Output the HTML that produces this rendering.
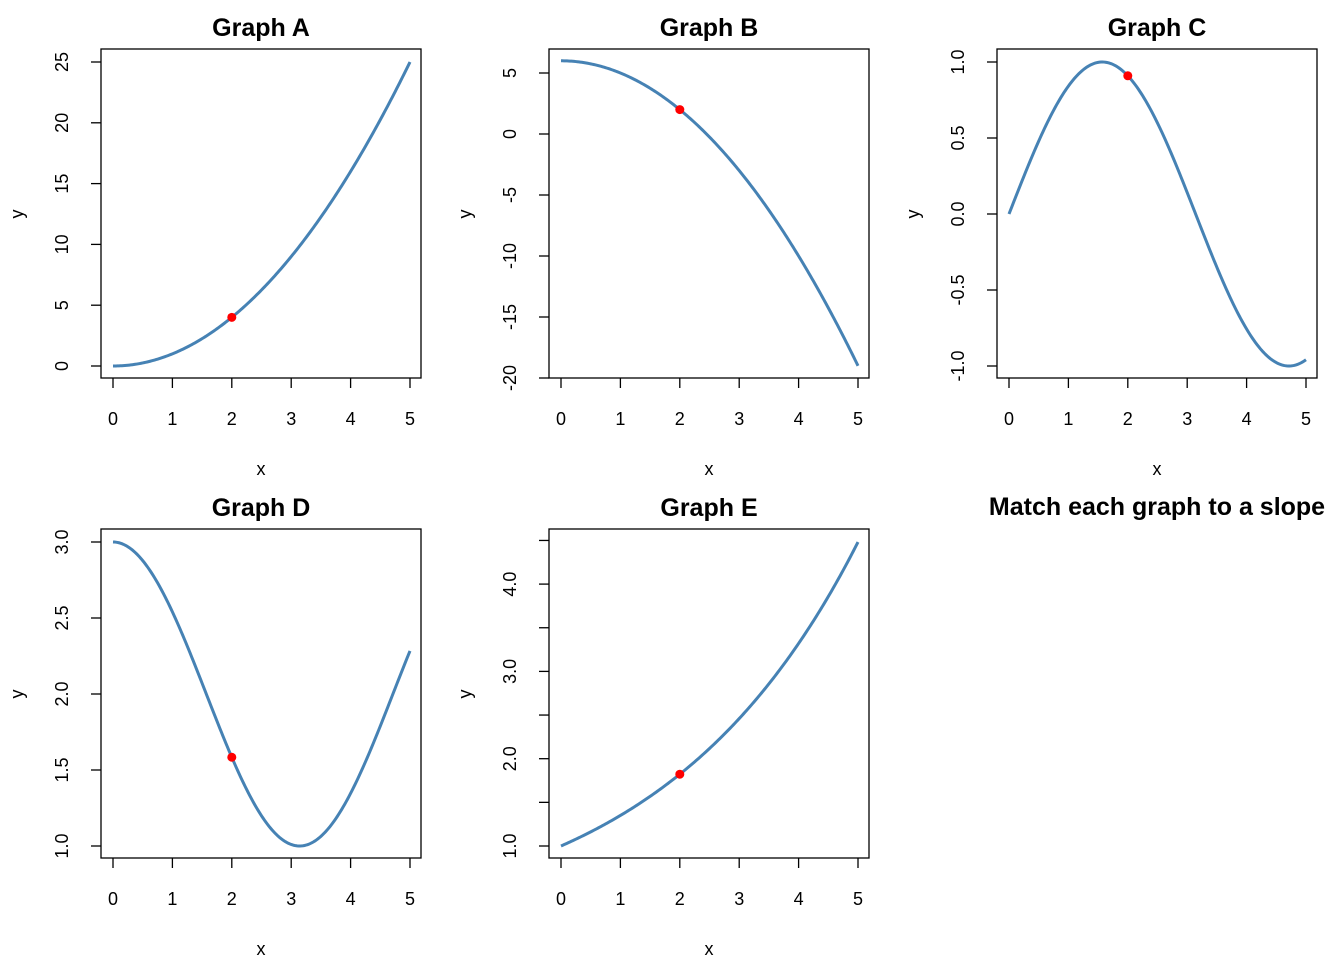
<!DOCTYPE html>
<html><head><meta charset="utf-8"><style>
html,body{margin:0;padding:0;background:#fff}
svg text{font-family:"Liberation Sans",Arial,sans-serif;fill:#000}
</style></head><body>
<svg id="s" width="1344" height="960" xmlns="http://www.w3.org/2000/svg"></svg>
<script>
var s=document.getElementById('s'),h='';
function panel(o){
 var L=o.L,T=o.T,R=L+320,B=T+329;
 var x0=L+12,xs=59.4;
 function X(v){return x0+v*xs}
 function Y(v){return o.y0+(v-o.v0)*o.ys}
 h+='<rect x="'+L+'" y="'+T+'" width="320" height="329" fill="none" stroke="#000" stroke-width="1.3"/>';
 for(var i=0;i<=5;i++){var x=X(i);h+='<line x1="'+x+'" y1="'+B+'" x2="'+x+'" y2="'+(B+10)+'" stroke="#000" stroke-width="1.3"/>';
  h+='<text x="'+x+'" y="'+(B+47)+'" font-size="18" text-anchor="middle">'+i+'</text>';}
 o.yt.forEach(function(t){var y=Y(t[0]);h+='<line x1="'+(L-10)+'" y1="'+y+'" x2="'+L+'" y2="'+y+'" stroke="#000" stroke-width="1.3"/>';
  if(t[1]!==null)h+='<text transform="translate('+(L-33)+','+y+') rotate(-90)" font-size="18" text-anchor="middle">'+t[1]+'</text>';});
 h+='<text x="'+(L+160)+'" y="'+(B+97)+'" font-size="18" text-anchor="middle">x</text>';
 h+='<text transform="translate('+(L-78)+','+(T+165)+') rotate(-90)" font-size="18" text-anchor="middle">y</text>';
 h+='<text x="'+(L+160)+'" y="'+(T-13)+'" font-size="25" font-weight="bold" text-anchor="middle">'+o.title+'</text>';
 var p='';for(var k=0;k<=200;k++){var v=k*5/200;p+=(k?'L':'M')+X(v).toFixed(2)+' '+Y(o.f(v)).toFixed(2);}
 h+='<path d="'+p+'" fill="none" stroke="#4682B4" stroke-width="3"/>';
 h+='<circle cx="'+X(2)+'" cy="'+Y(o.f(2))+'" r="4.5" fill="#FF0000"/>';
}
panel({L:101,T:49,title:'Graph A',y0:366,v0:0,ys:-12.16,f:function(x){return x*x},yt:[[0,'0'],[5,'5'],[10,'10'],[15,'15'],[20,'20'],[25,'25']]});
panel({L:549,T:49,title:'Graph B',y0:134,v0:0,ys:-12.2,f:function(x){return 6-x*x},yt:[[5,'5'],[0,'0'],[-5,'-5'],[-10,'-10'],[-15,'-15'],[-20,'-20']]});
panel({L:997,T:49,title:'Graph C',y0:214,v0:0,ys:-152,f:Math.sin,yt:[[1,'1.0'],[0.5,'0.5'],[0,'0.0'],[-0.5,'-0.5'],[-1,'-1.0']]});
panel({L:101,T:529,title:'Graph D',y0:846,v0:1,ys:-152,f:function(x){return 2+Math.cos(x)},yt:[[1,'1.0'],[1.5,'1.5'],[2,'2.0'],[2.5,'2.5'],[3,'3.0']]});
panel({L:549,T:529,title:'Graph E',y0:846,v0:1,ys:-87.3,f:function(x){return Math.exp(0.3*x)},yt:[[1,'1.0'],[1.5,null],[2,'2.0'],[2.5,null],[3,'3.0'],[3.5,null],[4,'4.0'],[4.5,null]]});
h+='<text x="1157" y="515" font-size="25" font-weight="bold" text-anchor="middle">Match each graph to a slope</text>';
s.innerHTML=h;
</script>
</body></html>
